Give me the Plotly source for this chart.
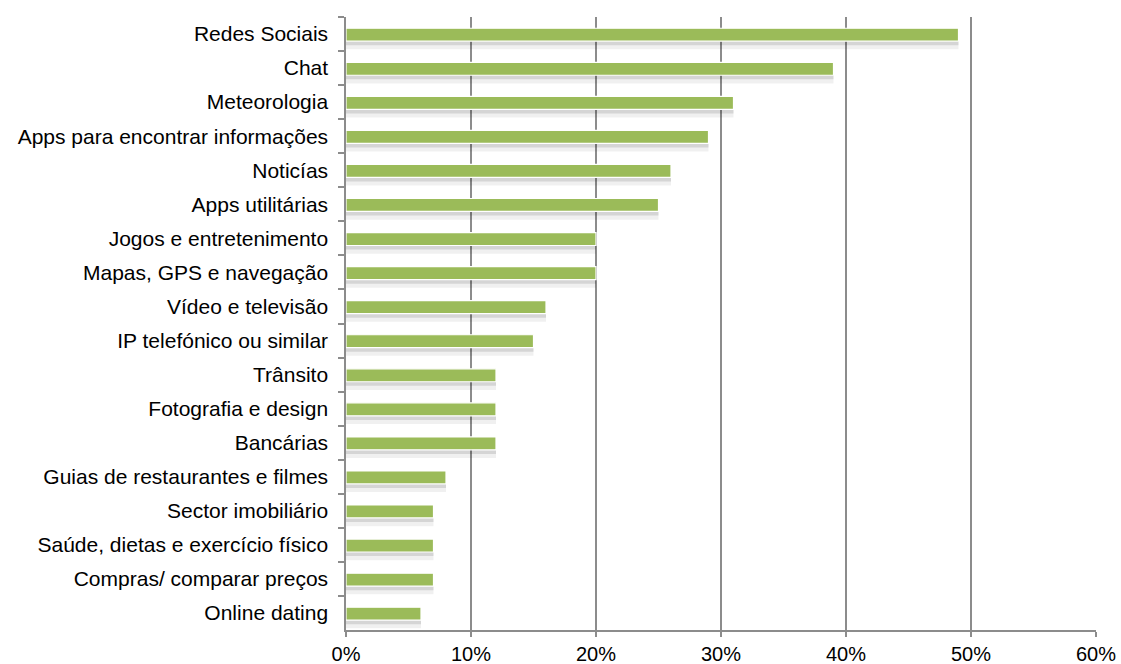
import plotly.graph_objects as go

categories = ["Redes Sociais", "Chat", "Meteorologia", "Apps para encontrar informações",
              "Noticías", "Apps utilitárias", "Jogos e entretenimento",
              "Mapas, GPS e navegação", "Vídeo e televisão", "IP telefónico ou similar",
              "Trânsito", "Fotografia e design", "Bancárias",
              "Guias de restaurantes e filmes", "Sector imobiliário",
              "Saúde, dietas e exercício físico", "Compras/ comparar preços", "Online dating"]
values = [49, 39, 31, 29, 26, 25, 20, 20, 16, 15, 12, 12, 12, 8, 7, 7, 7, 6]
x_ticks = [0, 10, 20, 30, 40, 50, 60]
x_labels = ["0%", "10%", "20%", "30%", "40%", "50%", "60%"]

fig = go.Figure()
# soft shadow layers
fig.add_trace(go.Bar(y=categories, x=values, orientation="h",
                     marker=dict(color="rgba(0,0,0,0.06)", line=dict(width=0)),
                     width=0.58, offset=-0.13, hoverinfo="skip", showlegend=False))
fig.add_trace(go.Bar(y=categories, x=values, orientation="h",
                     marker=dict(color="rgba(0,0,0,0.11)", line=dict(width=0)),
                     width=0.46, offset=-0.13, hoverinfo="skip", showlegend=False))
fig.add_trace(go.Bar(y=categories, x=values, orientation="h",
                     marker=dict(color="#9BBB59", line=dict(color="white", width=1.2)),
                     width=0.38, offset=-0.17, showlegend=False))

fig.update_layout(
    width=1121, height=664, barmode="overlay",
    margin=dict(l=346, r=25, t=17, b=34),
    plot_bgcolor="white", paper_bgcolor="white",
    font=dict(family="Liberation Sans, Arial, sans-serif", size=20, color="black"),
    xaxis=dict(range=[0, 60], tickvals=x_ticks, ticktext=x_labels, automargin=False,
               showgrid=True, gridcolor="#8c8c8c", gridwidth=2,
               zeroline=False, showline=True, linecolor="#8c8c8c", linewidth=2,
               ticks="outside", ticklen=5, tickcolor="#8c8c8c", tickwidth=2,
               ticklabeloverflow="allow", ticklabelstandoff=0,
               tickfont=dict(size=20)),
    yaxis=dict(categoryorder="array", categoryarray=categories, autorange="reversed",
               automargin=False,
               showline=True, linecolor="#8c8c8c", linewidth=2,
               ticks="outside", tickson="boundaries", ticklen=6, tickcolor="#8c8c8c",
               tickwidth=2, showgrid=False, ticksuffix="  ", tickfont=dict(size=21)),
)
fig.write_html("out.html", config={"displayModeBar": False},
               post_script="document.body.style.margin='0';document.body.style.overflow='hidden';")
